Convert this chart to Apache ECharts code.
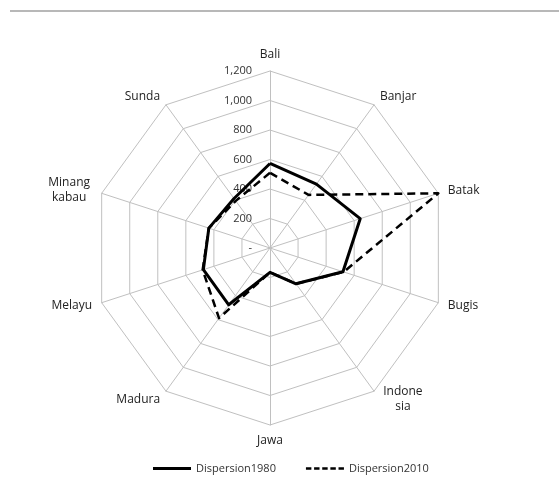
<!DOCTYPE html>
<html>
<head>
<meta charset="utf-8">
<script src="https://cdn.jsdelivr.net/npm/echarts@6/dist/echarts.min.js"></script>
<style>
  html, body { margin: 0; padding: 0; background: #fff; }
  #chart { width: 559px; height: 494px; }
</style>
</head>
<body>
<div id="chart"></div>
<script>
// catégories dans le sens horaire, en partant du haut
const categories = ["Bali", "Banjar", "Batak", "Bugis", "Indone\nsia", "Jawa", "Madura", "Melayu", "Minang\nkabau", "Sunda"];
const dispersion1980 = [573, 535, 643, 520, 300, 165, 476, 475, 436, 415];
const dispersion2010 = [510, 445, 1200, 525, 300, 165, 588, 480, 436, 395];
const axisMax = 1200;
const seriesNames = ["Dispersion1980", "Dispersion2010"];

// ECharts tourne dans le sens anti-horaire : on inverse l'ordre après le premier
function clockwise(arr) {
	return [arr[0]].concat(arr.slice(1).reverse());
}

const indicators = clockwise(categories).map((name, i) => {
	const ind = { name: name, max: axisMax, min: 0 };
	if (i === 0) {
		ind.axisLabel = {
			show: true,
			color: "#333",
			fontSize: 11,
			fontFamily: "Open Sans",
			margin: 18,
			formatter: (v) => (v === 0 ? "-" : v.toLocaleString("en-US")),
		};
	}
	return ind;
});

const chart = echarts.init(document.getElementById("chart"));
chart.setOption({
	animation: false,
	backgroundColor: "#fff",
	graphic: [
		{
			type: "line",
			shape: { x1: 10, y1: 11, x2: 559, y2: 11 },
			style: { stroke: "#a0a0a0", lineWidth: 1.5 },
		},
	],
	legend: {
		left: 148,
		top: 458,
		itemGap: 30,
		itemWidth: 38,
		itemHeight: 3,
		textStyle: { color: "#333", fontSize: 11, fontFamily: "Open Sans" },
		data: [
			{ name: seriesNames[0], icon: "path://M0,0h40v3h-40z" },
			{ name: seriesNames[1], icon: "path://M0,0h6v3h-6zM9,0h6v3h-6zM18,0h6v3h-6zM27,0h6v3h-6zM36,0h6v3h-6z" },
		],
	},
	radar: {
		center: [270, 248],
		radius: 177,
		startAngle: 90,
		splitNumber: 6,
		shape: "polygon",
		nameGap: 10,
		indicator: indicators,
		axisName: {
			color: "#222",
			fontSize: 12,
			fontFamily: "Open Sans",
			// noms sur deux lignes : lignes centrées entre elles
			formatter: (name) =>
				name.indexOf("\n") < 0
					? name
					: name.split("\n").map((s) => "{c|" + s + "}").join("\n"),
			rich: {
				c: { width: 46, align: "center", color: "#222", fontSize: 12, fontFamily: "Open Sans", lineHeight: 15 },
			},
		},
		splitArea: { show: false },
		splitLine: { lineStyle: { color: "#c0c0c0", width: 1 } },
		axisLine: { lineStyle: { color: "#c0c0c0", width: 1 } },
		axisTick: { show: false },
		axisLabel: { show: false },
	},
	series: [
		{
			type: "radar",
			symbol: "none",
			data: [
				{
					name: seriesNames[0],
					value: clockwise(dispersion1980),
					lineStyle: { color: "#000", width: 3, type: "solid" },
					itemStyle: { color: "#000" },
				},
				{
					name: seriesNames[1],
					value: clockwise(dispersion2010),
					lineStyle: { color: "#000", width: 2.5, type: [8, 5] },
					itemStyle: { color: "#000" },
				},
			],
		},
	],
});
</script>
</body>
</html>
